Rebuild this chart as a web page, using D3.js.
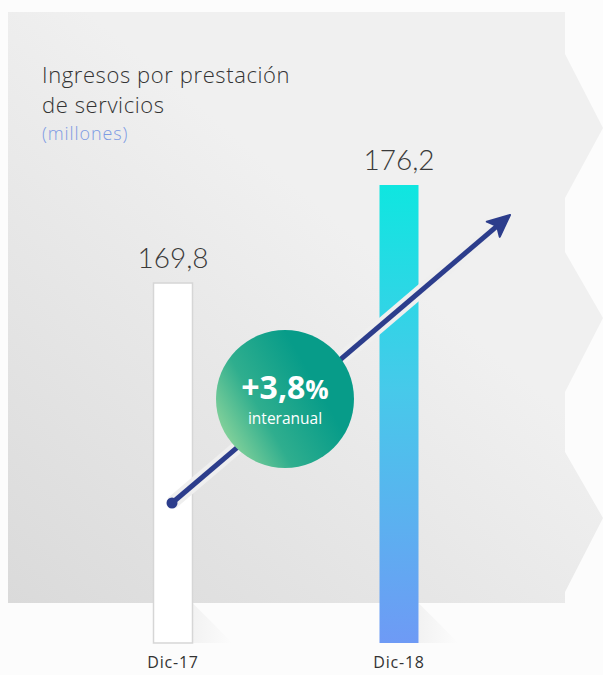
<!DOCTYPE html>
<html>
<head>
<meta charset="utf-8">
<script src="https://cdn.jsdelivr.net/npm/d3@7"></script>
<style>
  html, body { margin: 0; padding: 0; background: #fcfcfc; }
  svg { display: block; }
</style>
</head>
<body>
<div id="chart"></div>
<script>
'use strict';

// data
const categories = ['Dic-17', 'Dic-18'];
const values = [169.8, 176.2];
const valueLabels = ['169,8', '176,2'];
const titleLines = ['Ingresos por prestación', 'de servicios'];
const unitLabel = '(millones)';
const changeLabel = '+3,8%';
const changeSub = 'interanual';

const W = 603, H = 675;
const baseY = 643;

const svg = d3.select('#chart').append('svg')
   .attr('width', W)
   .attr('height', H);

const defs = svg.append('defs');

// panel background gradient
const pg = defs.append('linearGradient')
   .attr('id', 'panel')
   .attr('x1', 0).attr('y1', 1).attr('x2', 0.55).attr('y2', 0.35);
pg.append('stop').attr('offset', 0).attr('stop-color', '#dadada');
pg.append('stop').attr('offset', 1).attr('stop-color', '#f0f0f0');

const bg = defs.append('linearGradient')
   .attr('id', 'bar2')
   .attr('x1', 0).attr('y1', 0).attr('x2', 0).attr('y2', 1);
bg.append('stop').attr('offset', 0).attr('stop-color', '#0fe6e0');
bg.append('stop').attr('offset', 0.45).attr('stop-color', '#47c9ea');
bg.append('stop').attr('offset', 1).attr('stop-color', '#6e9af5');

const cg = defs.append('linearGradient')
   .attr('id', 'circ')
   .attr('x1', 0).attr('y1', 0.75).attr('x2', 0.7).attr('y2', 0.35);
cg.append('stop').attr('offset', 0).attr('stop-color', '#8fd69c');
cg.append('stop').attr('offset', 0.45).attr('stop-color', '#2fae8e');
cg.append('stop').attr('offset', 1).attr('stop-color', '#079c89');

const sg = defs.append('linearGradient')
   .attr('id', 'shadow')
   .attr('x1', 0).attr('y1', 0).attr('x2', 1).attr('y2', 0);
sg.append('stop').attr('offset', 0).attr('stop-color', '#000').attr('stop-opacity', 0.04);
sg.append('stop').attr('offset', 1).attr('stop-color', '#000').attr('stop-opacity', 0);

// grey panel with a zigzag right edge
const edge = [[565, 12], [565, 54], [603, 128], [565, 198], [565, 252], [603, 318],
  [565, 392], [565, 452], [603, 518], [565, 592], [565, 603]];
const panelPts = [[8, 12]].concat(edge).concat([[8, 603]]);
svg.append('path')
   .attr('d', d3.line()(panelPts) + 'Z')
   .attr('fill', 'url(#panel)');

// scales
const x = d3.scalePoint()
   .domain(categories)
   .range([173, 399]);

const y = d3.scaleLinear()
   .domain([146.3, 176.2])
   .range([baseY, 185]);

const barW = 39;

// soft shadows at the foot of the bars
svg.selectAll('.shadow')
  .data(categories)
  .enter().append('path')
   .attr('class', 'shadow')
   .attr('d', d => {
     const r = x(d) + barW / 2;
     return `M${r},${baseY - 40} L${r + 40},${baseY} L${r},${baseY} Z`;
   })
   .attr('fill', 'url(#shadow)');

// bars
svg.selectAll('.bar')
  .data(values)
  .enter().append('rect')
   .attr('class', 'bar')
   .attr('x', (d, i) => x(categories[i]) - barW / 2)
   .attr('y', d => y(d))
   .attr('width', barW)
   .attr('height', d => baseY - y(d))
   .attr('fill', (d, i) => i === 0 ? '#ffffff' : 'url(#bar2)')
   .attr('stroke', (d, i) => i === 0 ? '#d6d6d6' : 'none')
   .attr('stroke-width', 1.5);

// value labels
svg.selectAll('.val')
  .data(values)
  .enter().append('text')
   .attr('class', 'val')
   .attr('x', (d, i) => x(categories[i]))
   .attr('y', d => y(d) - 15)
   .attr('text-anchor', 'middle')
   .attr('font-family', 'Lato, "Open Sans", sans-serif')
   .attr('font-weight', 300)
   .attr('font-size', 28)
   .attr('fill', '#3a3a3a')
   .text((d, i) => valueLabels[i]);

// category labels
svg.selectAll('.cat')
  .data(categories)
  .enter().append('text')
   .attr('class', 'cat')
   .attr('x', d => x(d))
   .attr('y', 668)
   .attr('text-anchor', 'middle')
   .attr('font-family', '"Open Sans", sans-serif')
   .attr('font-size', 16)
   .attr('letter-spacing', 0.8)
   .attr('fill', '#333')
   .text(d => d);

// title
svg.selectAll('.title')
  .data(titleLines)
  .enter().append('text')
   .attr('class', 'title')
   .attr('x', 42)
   .attr('y', (d, i) => 83 + i * 30)
   .attr('font-family', '"Open Sans", sans-serif')
   .attr('font-weight', 300)
   .attr('font-size', 22)
   .attr('letter-spacing', 0.6)
   .attr('fill', '#333')
   .text(d => d);

svg.append('text')
   .attr('x', 42)
   .attr('y', 140)
   .attr('font-family', '"Open Sans", sans-serif')
   .attr('font-weight', 300)
   .attr('font-size', 18)
   .attr('letter-spacing', 0.9)
   .attr('fill', '#7d9be3')
   .text(unitLabel);

// trend arrow
const a0 = [x(categories[0]) - 1, 503], a1 = [510, 215];
const ang = Math.atan2(a1[1] - a0[1], a1[0] - a0[0]);
const lineEnd = [a1[0] - 14 * Math.cos(ang), a1[1] - 14 * Math.sin(ang)];

svg.append('line')
   .attr('x1', a0[0]).attr('y1', a0[1])
   .attr('x2', lineEnd[0]).attr('y2', lineEnd[1])
   .attr('stroke', '#efefef')
   .attr('stroke-width', 13);

svg.append('line')
   .attr('x1', a0[0]).attr('y1', a0[1])
   .attr('x2', lineEnd[0]).attr('y2', lineEnd[1])
   .attr('stroke', '#2c3d8c')
   .attr('stroke-width', 5);

svg.append('circle')
   .attr('cx', a0[0]).attr('cy', a0[1])
   .attr('r', 5.5)
   .attr('fill', '#2c3d8c');

const head = [[0, 0], [-22, -10], [-17, 0], [-22, 10]];
svg.append('path')
   .attr('d', d3.line()(head) + 'Z')
   .attr('transform', `translate(${a1[0]},${a1[1]}) rotate(${ang * 180 / Math.PI})`)
   .attr('fill', '#2c3d8c')
   .attr('stroke', '#2c3d8c')
   .attr('stroke-width', 2)
   .attr('stroke-linejoin', 'round');

// change badge
const badge = svg.append('g').attr('transform', 'translate(285,399)');
badge.append('circle')
   .attr('r', 69)
   .attr('fill', 'url(#circ)');
const big = badge.append('text')
   .attr('y', 0)
   .attr('text-anchor', 'middle')
   .attr('font-family', '"Open Sans", sans-serif')
   .attr('font-weight', 700)
   .attr('font-size', 32)
   .attr('fill', '#fff');
big.append('tspan').text(changeLabel.slice(0, -1));
big.append('tspan').attr('font-size', 26).text(changeLabel.slice(-1));
badge.append('text')
   .attr('y', 25)
   .attr('text-anchor', 'middle')
   .attr('font-family', '"Open Sans", sans-serif')
   .attr('font-size', 15.5)
   .attr('fill', '#fff')
   .text(changeSub);
</script>
</body>
</html>
